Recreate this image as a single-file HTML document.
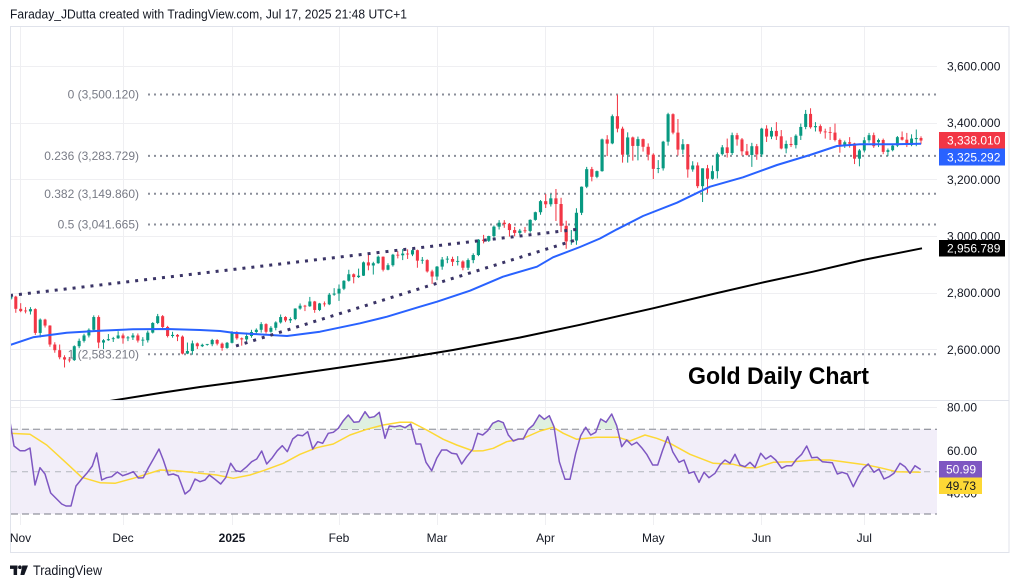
<!DOCTYPE html>
<html><head><meta charset="utf-8"><style>
html,body{margin:0;padding:0;background:#fff;}
svg{display:block;}
.g{fill:#089981}.r{fill:#f23645}
text{font-family:"Liberation Sans",Arial,sans-serif;}
</style></head><body>
<svg width="1020" height="588" viewBox="0 0 1020 588" xmlns="http://www.w3.org/2000/svg">
<defs>
<clipPath id="mp"><rect x="11" y="28" width="926" height="372"/></clipPath>
<clipPath id="rp"><rect x="11" y="401" width="926" height="124"/></clipPath>
<clipPath id="ob"><rect x="11" y="395" width="926" height="34.3"/></clipPath>
</defs>
<rect width="1020" height="588" fill="#fff"/>
<text x="10" y="18.5" font-size="12.5" fill="#131722" textLength="397" lengthAdjust="spacingAndGlyphs">Faraday_JDutta created with TradingView.com, Jul 17, 2025 21:48 UTC+1</text>
<rect x="10.5" y="26.5" width="998.5" height="526" fill="none" stroke="#e0e3eb" stroke-width="1"/>
<!-- grid -->
<g stroke="#efeff2" stroke-width="1">
<line x1="20.5" y1="27" x2="20.5" y2="525"/><line x1="123.5" y1="27" x2="123.5" y2="525"/><line x1="232.5" y1="27" x2="232.5" y2="525"/><line x1="339.5" y1="27" x2="339.5" y2="525"/><line x1="437.5" y1="27" x2="437.5" y2="525"/><line x1="545.5" y1="27" x2="545.5" y2="525"/><line x1="653.5" y1="27" x2="653.5" y2="525"/><line x1="761.5" y1="27" x2="761.5" y2="525"/><line x1="864.5" y1="27" x2="864.5" y2="525"/>
<line x1="11" y1="66.5" x2="937" y2="66.5"/><line x1="11" y1="123.5" x2="937" y2="123.5"/><line x1="11" y1="179.5" x2="937" y2="179.5"/><line x1="11" y1="236.5" x2="937" y2="236.5"/><line x1="11" y1="293.5" x2="937" y2="293.5"/><line x1="11" y1="349.5" x2="937" y2="349.5"/>
<line x1="11" y1="407.5" x2="937" y2="407.5"/><line x1="11" y1="450.5" x2="937" y2="450.5"/><line x1="11" y1="493.5" x2="937" y2="493.5"/>
</g>
<line x1="11" y1="400.5" x2="1009" y2="400.5" stroke="#e0e3eb" stroke-width="1"/>

<!-- main pane -->
<g clip-path="url(#mp)">
<!-- fib lines -->
<g stroke="#8a8e99" stroke-width="2" stroke-dasharray="2 4">
<line x1="148" y1="94.5" x2="937" y2="94.5"/>
<line x1="148" y1="155.9" x2="937" y2="155.9"/>
<line x1="148" y1="193.8" x2="937" y2="193.8"/>
<line x1="148" y1="224.5" x2="937" y2="224.5"/>
<line x1="148" y1="354.3" x2="937" y2="354.3"/>
</g>
<!-- candles -->
<g transform="translate(20.7,1086.2) scale(4.9,-0.2833)">
<rect class="g" x="-2.1" y="2776" width=".2" height="14"/><rect class="g" x="-2.31" y="2780" width=".62" height="7"/>
<rect class="r" x="-1.1" y="2730" width=".2" height="60"/><rect class="r" x="-1.31" y="2744" width=".62" height="43"/>
</g>
<g transform="translate(20.7,1086.2) scale(4.871,-0.2833)">
<rect class="r" x="-.1" y="2732" width=".2" height="32"/><rect class="r" x="-.31" y="2736" width=".62" height="8"/>
<rect class="r" x=".9" y="2728" width=".2" height="22"/><rect class="r" x=".69" y="2735" width=".62" height="3"/>
<rect class="g" x="1.9" y="2724" width=".2" height="26"/><rect class="g" x="1.69" y="2735" width=".62" height="8"/>
<rect class="r" x="2.9" y="2652" width=".2" height="94"/><rect class="r" x="2.69" y="2659" width=".62" height="84"/>
<rect class="g" x="3.9" y="2643" width=".2" height="67"/><rect class="g" x="3.69" y="2659" width=".62" height="47"/>
<rect class="r" x="4.9" y="2678" width=".2" height="31"/><rect class="r" x="4.69" y="2685" width=".62" height="21"/>
<rect class="r" x="5.9" y="2610" width=".2" height="76"/><rect class="r" x="5.69" y="2618" width=".62" height="67"/>
<rect class="r" x="6.9" y="2589" width=".2" height="37"/><rect class="r" x="6.69" y="2598" width=".62" height="20"/>
<rect class="r" x="7.9" y="2566" width=".2" height="52"/><rect class="r" x="7.69" y="2573" width=".62" height="25"/>
<rect class="r" x="8.9" y="2537" width=".2" height="43"/><rect class="r" x="8.69" y="2565" width=".62" height="8"/>
<rect class="r" x="9.9" y="2555" width=".2" height="19"/><rect class="r" x="9.69" y="2562" width=".62" height="3"/>
<rect class="g" x="10.9" y="2560" width=".2" height="55"/><rect class="g" x="10.69" y="2563" width=".62" height="49"/>
<rect class="g" x="11.9" y="2605" width=".2" height="34"/><rect class="g" x="11.69" y="2612" width=".62" height="19"/>
<rect class="g" x="12.9" y="2625" width=".2" height="31"/><rect class="g" x="12.69" y="2631" width=".62" height="19"/>
<rect class="g" x="13.9" y="2643" width=".2" height="32"/><rect class="g" x="13.69" y="2650" width=".62" height="20"/>
<rect class="g" x="14.9" y="2668" width=".2" height="53"/><rect class="g" x="14.69" y="2670" width=".62" height="45"/>
<rect class="r" x="15.9" y="2605" width=".2" height="116"/><rect class="r" x="15.69" y="2625" width=".62" height="90"/>
<rect class="g" x="16.9" y="2602" width=".2" height="35"/><rect class="g" x="16.69" y="2625" width=".62" height="8"/>
<rect class="g" x="17.9" y="2631" width=".2" height="24"/><rect class="g" x="17.69" y="2633" width=".62" height="4"/>
<rect class="g" x="18.9" y="2627" width=".2" height="18"/><rect class="g" x="18.69" y="2637" width=".62" height="3"/>
<rect class="g" x="19.9" y="2638" width=".2" height="27"/><rect class="g" x="19.69" y="2640" width=".62" height="10"/>
</g>
<g transform="translate(123,1086.2) scale(4.955,-0.2833)">
<rect class="r" x="-.1" y="2621" width=".2" height="36"/><rect class="r" x="-.31" y="2640" width=".62" height="10"/>
<rect class="g" x=".9" y="2630" width=".2" height="18"/><rect class="g" x=".69" y="2640" width=".62" height="3"/>
<rect class="g" x="1.9" y="2634" width=".2" height="24"/><rect class="g" x="1.69" y="2643" width=".62" height="7"/>
<rect class="r" x="2.9" y="2625" width=".2" height="32"/><rect class="r" x="2.69" y="2632" width=".62" height="18"/>
<rect class="g" x="3.9" y="2613" width=".2" height="31"/><rect class="g" x="3.69" y="2632" width=".62" height="3"/>
<rect class="g" x="4.9" y="2625" width=".2" height="42"/><rect class="g" x="4.69" y="2633" width=".62" height="27"/>
<rect class="g" x="5.9" y="2657" width=".2" height="40"/><rect class="g" x="5.69" y="2660" width=".62" height="34"/>
<rect class="g" x="6.9" y="2690" width=".2" height="36"/><rect class="g" x="6.69" y="2694" width=".62" height="24"/>
<rect class="r" x="7.9" y="2670" width=".2" height="52"/><rect class="r" x="7.69" y="2680" width=".62" height="38"/>
<rect class="r" x="8.9" y="2643" width=".2" height="41"/><rect class="r" x="8.69" y="2648" width=".62" height="32"/>
<rect class="g" x="9.9" y="2642" width=".2" height="21"/><rect class="g" x="9.69" y="2648" width=".62" height="4"/>
<rect class="r" x="10.9" y="2630" width=".2" height="25"/><rect class="r" x="10.69" y="2646" width=".62" height="6"/>
<rect class="r" x="11.9" y="2583" width=".2" height="67"/><rect class="r" x="11.69" y="2586" width=".62" height="60"/>
<rect class="g" x="12.9" y="2584" width=".2" height="41"/><rect class="g" x="12.69" y="2586" width=".62" height="9"/>
<rect class="g" x="13.9" y="2582" width=".2" height="50"/><rect class="g" x="13.69" y="2595" width=".62" height="27"/>
<rect class="r" x="14.9" y="2602" width=".2" height="23"/><rect class="r" x="14.69" y="2612" width=".62" height="10"/>
<rect class="g" x="15.9" y="2609" width=".2" height="12"/><rect class="g" x="15.69" y="2612" width=".62" height="5"/>
<rect class="g" x="16.9" y="2614" width=".2" height="6"/><rect class="g" x="16.69" y="2617" width=".62" height="3"/>
<rect class="g" x="17.9" y="2612" width=".2" height="26"/><rect class="g" x="17.69" y="2619" width=".62" height="15"/>
<rect class="r" x="18.9" y="2615" width=".2" height="22"/><rect class="r" x="18.69" y="2621" width=".62" height="13"/>
<rect class="r" x="19.9" y="2596" width=".2" height="29"/><rect class="r" x="19.69" y="2606" width=".62" height="15"/>
<rect class="g" x="20.9" y="2603" width=".2" height="24"/><rect class="g" x="20.69" y="2606" width=".62" height="18"/>
</g>
<g transform="translate(232,1086.2) scale(4.864,-0.2833)">
<rect class="g" x="-.1" y="2622" width=".2" height="43"/><rect class="g" x="-.31" y="2624" width=".62" height="34"/>
<rect class="r" x=".9" y="2635" width=".2" height="30"/><rect class="r" x=".69" y="2640" width=".62" height="18"/>
<rect class="r" x="1.9" y="2614" width=".2" height="29"/><rect class="r" x="1.69" y="2636" width=".62" height="4"/>
<rect class="g" x="2.9" y="2630" width=".2" height="30"/><rect class="g" x="2.69" y="2636" width=".62" height="12"/>
<rect class="g" x="3.9" y="2642" width=".2" height="28"/><rect class="g" x="3.69" y="2648" width=".62" height="14"/>
<rect class="g" x="4.9" y="2657" width=".2" height="18"/><rect class="g" x="4.69" y="2662" width=".62" height="8"/>
<rect class="g" x="5.9" y="2660" width=".2" height="37"/><rect class="g" x="5.69" y="2670" width=".62" height="20"/>
<rect class="r" x="6.9" y="2657" width=".2" height="36"/><rect class="r" x="6.69" y="2663" width=".62" height="27"/>
<rect class="g" x="7.9" y="2660" width=".2" height="23"/><rect class="g" x="7.69" y="2663" width=".62" height="14"/>
<rect class="g" x="8.9" y="2668" width=".2" height="32"/><rect class="g" x="8.69" y="2677" width=".62" height="19"/>
<rect class="g" x="9.9" y="2692" width=".2" height="32"/><rect class="g" x="9.69" y="2696" width=".62" height="19"/>
<rect class="r" x="10.9" y="2697" width=".2" height="21"/><rect class="r" x="10.69" y="2703" width=".62" height="12"/>
<rect class="g" x="11.9" y="2694" width=".2" height="20"/><rect class="g" x="11.69" y="2703" width=".62" height="5"/>
<rect class="g" x="12.9" y="2704" width=".2" height="42"/><rect class="g" x="12.69" y="2708" width=".62" height="37"/>
<rect class="g" x="13.9" y="2741" width=".2" height="22"/><rect class="g" x="13.69" y="2745" width=".62" height="10"/>
<rect class="r" x="14.9" y="2736" width=".2" height="22"/><rect class="r" x="14.69" y="2752" width=".62" height="3"/>
<rect class="g" x="15.9" y="2751" width=".2" height="35"/><rect class="g" x="15.69" y="2753" width=".62" height="17"/>
<rect class="r" x="16.9" y="2730" width=".2" height="42"/><rect class="r" x="16.69" y="2740" width=".62" height="30"/>
<rect class="g" x="17.9" y="2736" width=".2" height="29"/><rect class="g" x="17.69" y="2740" width=".62" height="23"/>
<rect class="r" x="18.9" y="2752" width=".2" height="18"/><rect class="r" x="18.69" y="2760" width=".62" height="3"/>
<rect class="g" x="19.9" y="2757" width=".2" height="43"/><rect class="g" x="19.69" y="2760" width=".62" height="34"/>
<rect class="g" x="20.9" y="2790" width=".2" height="27"/><rect class="g" x="20.69" y="2794" width=".62" height="4"/>
</g>
<g transform="translate(339,1086.2) scale(4.9,-0.2833)">
<rect class="g" x="-.1" y="2772" width=".2" height="58"/><rect class="g" x="-.31" y="2798" width=".62" height="17"/>
<rect class="g" x=".9" y="2810" width=".2" height="35"/><rect class="g" x=".69" y="2815" width=".62" height="28"/>
<rect class="g" x="1.9" y="2840" width=".2" height="42"/><rect class="g" x="1.69" y="2843" width=".62" height="23"/>
<rect class="r" x="2.9" y="2834" width=".2" height="35"/><rect class="r" x="2.69" y="2856" width=".62" height="10"/>
<rect class="g" x="3.9" y="2853" width=".2" height="33"/><rect class="g" x="3.69" y="2856" width=".62" height="5"/>
<rect class="g" x="4.9" y="2860" width=".2" height="51"/><rect class="g" x="4.69" y="2861" width=".62" height="47"/>
<rect class="r" x="5.9" y="2880" width=".2" height="62"/><rect class="r" x="5.69" y="2897" width=".62" height="11"/>
<rect class="g" x="6.9" y="2865" width=".2" height="45"/><rect class="g" x="6.69" y="2897" width=".62" height="8"/>
<rect class="g" x="7.9" y="2903" width=".2" height="29"/><rect class="g" x="7.69" y="2905" width=".62" height="23"/>
<rect class="r" x="8.9" y="2876" width=".2" height="53"/><rect class="r" x="8.69" y="2882" width=".62" height="46"/>
<rect class="g" x="9.9" y="2880" width=".2" height="25"/><rect class="g" x="9.69" y="2882" width=".62" height="16"/>
<rect class="g" x="10.9" y="2893" width=".2" height="45"/><rect class="g" x="10.69" y="2898" width=".62" height="37"/>
<rect class="r" x="11.9" y="2922" width=".2" height="25"/><rect class="r" x="11.69" y="2932" width=".62" height="3"/>
<rect class="g" x="12.9" y="2916" width=".2" height="39"/><rect class="g" x="12.69" y="2933" width=".62" height="6"/>
<rect class="r" x="13.9" y="2920" width=".2" height="34"/><rect class="r" x="13.69" y="2936" width=".62" height="3"/>
<rect class="g" x="14.9" y="2930" width=".2" height="26"/><rect class="g" x="14.69" y="2936" width=".62" height="15"/>
<rect class="r" x="15.9" y="2889" width=".2" height="64"/><rect class="r" x="15.69" y="2914" width=".62" height="37"/>
<rect class="g" x="16.9" y="2903" width=".2" height="24"/><rect class="g" x="16.69" y="2914" width=".62" height="3"/>
<rect class="r" x="17.9" y="2872" width=".2" height="47"/><rect class="r" x="17.69" y="2876" width=".62" height="40"/>
<rect class="r" x="18.9" y="2832" width=".2" height="50"/><rect class="r" x="18.69" y="2858" width=".62" height="18"/>
</g>
<g transform="translate(437,1086.2) scale(5.176,-0.2833)">
<rect class="g" x="-.1" y="2845" width=".2" height="50"/><rect class="g" x="-.31" y="2858" width=".62" height="35"/>
<rect class="g" x=".9" y="2882" width=".2" height="45"/><rect class="g" x=".69" y="2893" width=".62" height="25"/>
<rect class="g" x="1.9" y="2905" width=".2" height="25"/><rect class="g" x="1.69" y="2918" width=".62" height="3"/>
<rect class="r" x="2.9" y="2895" width=".2" height="33"/><rect class="r" x="2.69" y="2910" width=".62" height="10"/>
<rect class="g" x="3.9" y="2897" width=".2" height="33"/><rect class="g" x="3.69" y="2910" width=".62" height="3"/>
<rect class="r" x="4.9" y="2880" width=".2" height="35"/><rect class="r" x="4.69" y="2889" width=".62" height="22"/>
<rect class="g" x="5.9" y="2881" width=".2" height="41"/><rect class="g" x="5.69" y="2889" width=".62" height="27"/>
<rect class="g" x="6.9" y="2905" width=".2" height="35"/><rect class="g" x="6.69" y="2916" width=".62" height="18"/>
<rect class="g" x="7.9" y="2930" width=".2" height="60"/><rect class="g" x="7.69" y="2934" width=".62" height="54"/>
<rect class="r" x="8.9" y="2975" width=".2" height="30"/><rect class="r" x="8.69" y="2984" width=".62" height="4"/>
<rect class="g" x="9.9" y="2980" width=".2" height="22"/><rect class="g" x="9.69" y="2984" width=".62" height="17"/>
<rect class="g" x="10.9" y="2996" width=".2" height="42"/><rect class="g" x="10.69" y="3001" width=".62" height="33"/>
<rect class="g" x="11.9" y="3024" width=".2" height="33"/><rect class="g" x="11.69" y="3034" width=".62" height="14"/>
<rect class="r" x="12.9" y="3030" width=".2" height="27"/><rect class="r" x="12.69" y="3043" width=".62" height="5"/>
<rect class="r" x="13.9" y="2999" width=".2" height="48"/><rect class="r" x="13.69" y="3022" width=".62" height="21"/>
<rect class="r" x="14.9" y="3000" width=".2" height="33"/><rect class="r" x="14.69" y="3012" width=".62" height="10"/>
<rect class="g" x="15.9" y="3005" width=".2" height="21"/><rect class="g" x="15.69" y="3012" width=".62" height="8"/>
<rect class="r" x="16.9" y="3012" width=".2" height="21"/><rect class="r" x="16.69" y="3018" width=".62" height="3"/>
<rect class="g" x="17.9" y="3013" width=".2" height="47"/><rect class="g" x="17.69" y="3019" width=".62" height="39"/>
<rect class="g" x="18.9" y="3055" width=".2" height="32"/><rect class="g" x="18.69" y="3058" width=".62" height="27"/>
<rect class="g" x="19.9" y="3076" width=".2" height="52"/><rect class="g" x="19.69" y="3085" width=".62" height="39"/>
</g>
<g transform="translate(545.7,1086.2) scale(5.124,-0.2833)">
<rect class="r" x="-.1" y="3100" width=".2" height="49"/><rect class="r" x="-.31" y="3113" width=".62" height="11"/>
<rect class="g" x=".9" y="3105" width=".2" height="44"/><rect class="g" x=".69" y="3113" width=".62" height="21"/>
<rect class="r" x="1.9" y="3054" width=".2" height="113"/><rect class="r" x="1.69" y="3114" width=".62" height="20"/>
<rect class="r" x="2.9" y="3015" width=".2" height="121"/><rect class="r" x="2.69" y="3037" width=".62" height="77"/>
<rect class="r" x="3.9" y="2956" width=".2" height="99"/><rect class="r" x="3.69" y="2982" width=".62" height="55"/>
<rect class="g" x="4.9" y="2970" width=".2" height="52"/><rect class="g" x="4.69" y="2982" width=".62" height="3"/>
<rect class="g" x="5.9" y="2970" width=".2" height="129"/><rect class="g" x="5.69" y="2985" width=".62" height="98"/>
<rect class="g" x="6.9" y="3075" width=".2" height="101"/><rect class="g" x="6.69" y="3083" width=".62" height="92"/>
<rect class="g" x="7.9" y="3170" width=".2" height="75"/><rect class="g" x="7.69" y="3175" width=".62" height="62"/>
<rect class="r" x="8.9" y="3194" width=".2" height="51"/><rect class="r" x="8.69" y="3210" width=".62" height="27"/>
<rect class="g" x="9.9" y="3205" width=".2" height="27"/><rect class="g" x="9.69" y="3210" width=".62" height="20"/>
<rect class="g" x="10.9" y="3228" width=".2" height="117"/><rect class="g" x="10.69" y="3230" width=".62" height="112"/>
<rect class="r" x="11.9" y="3283" width=".2" height="74"/><rect class="r" x="11.69" y="3327" width=".62" height="15"/>
<rect class="g" x="12.9" y="3325" width=".2" height="105"/><rect class="g" x="12.69" y="3328" width=".62" height="96"/>
<rect class="r" x="13.9" y="3367" width=".2" height="133"/><rect class="r" x="13.69" y="3380" width=".62" height="44"/>
<rect class="r" x="14.9" y="3260" width=".2" height="127"/><rect class="r" x="14.69" y="3288" width=".62" height="92"/>
<rect class="g" x="15.9" y="3260" width=".2" height="107"/><rect class="g" x="15.69" y="3288" width=".62" height="61"/>
<rect class="r" x="16.9" y="3267" width=".2" height="85"/><rect class="r" x="16.69" y="3319" width=".62" height="30"/>
<rect class="g" x="17.9" y="3268" width=".2" height="84"/><rect class="g" x="17.69" y="3319" width=".62" height="24"/>
<rect class="r" x="18.9" y="3299" width=".2" height="46"/><rect class="r" x="18.69" y="3316" width=".62" height="27"/>
<rect class="r" x="19.9" y="3268" width=".2" height="60"/><rect class="r" x="19.69" y="3288" width=".62" height="28"/>
</g>
<g transform="translate(653.3,1086.2) scale(4.927,-0.2833)">
<rect class="r" x="-.1" y="3202" width=".2" height="91"/><rect class="r" x="-.31" y="3238" width=".62" height="50"/>
<rect class="g" x=".9" y="3223" width=".2" height="46"/><rect class="g" x=".69" y="3238" width=".62" height="3"/>
<rect class="g" x="1.9" y="3232" width=".2" height="105"/><rect class="g" x="1.69" y="3240" width=".62" height="94"/>
<rect class="g" x="2.9" y="3320" width=".2" height="116"/><rect class="g" x="2.69" y="3334" width=".62" height="97"/>
<rect class="r" x="3.9" y="3360" width=".2" height="74"/><rect class="r" x="3.69" y="3366" width=".62" height="65"/>
<rect class="r" x="4.9" y="3285" width=".2" height="129"/><rect class="r" x="4.69" y="3306" width=".62" height="60"/>
<rect class="g" x="5.9" y="3290" width=".2" height="53"/><rect class="g" x="5.69" y="3306" width=".62" height="19"/>
<rect class="r" x="6.9" y="3207" width=".2" height="119"/><rect class="r" x="6.69" y="3236" width=".62" height="89"/>
<rect class="g" x="7.9" y="3228" width=".2" height="37"/><rect class="g" x="7.69" y="3236" width=".62" height="14"/>
<rect class="r" x="8.9" y="3170" width=".2" height="91"/><rect class="r" x="8.69" y="3177" width=".62" height="73"/>
<rect class="g" x="9.9" y="3121" width=".2" height="119"/><rect class="g" x="9.69" y="3177" width=".62" height="63"/>
<rect class="r" x="10.9" y="3153" width=".2" height="99"/><rect class="r" x="10.69" y="3203" width=".62" height="37"/>
<rect class="g" x="11.9" y="3200" width=".2" height="50"/><rect class="g" x="11.69" y="3203" width=".62" height="27"/>
<rect class="g" x="12.9" y="3204" width=".2" height="92"/><rect class="g" x="12.69" y="3230" width=".62" height="60"/>
<rect class="g" x="13.9" y="3285" width=".2" height="37"/><rect class="g" x="13.69" y="3290" width=".62" height="24"/>
<rect class="r" x="14.9" y="3278" width=".2" height="67"/><rect class="r" x="14.69" y="3294" width=".62" height="20"/>
<rect class="g" x="15.9" y="3287" width=".2" height="79"/><rect class="g" x="15.69" y="3294" width=".62" height="63"/>
<rect class="r" x="16.9" y="3320" width=".2" height="45"/><rect class="r" x="16.69" y="3342" width=".62" height="15"/>
<rect class="r" x="17.9" y="3285" width=".2" height="62"/><rect class="r" x="17.69" y="3300" width=".62" height="42"/>
<rect class="r" x="18.9" y="3285" width=".2" height="41"/><rect class="r" x="18.69" y="3287" width=".62" height="13"/>
<rect class="g" x="19.9" y="3245" width=".2" height="85"/><rect class="g" x="19.69" y="3287" width=".62" height="31"/>
<rect class="r" x="20.9" y="3270" width=".2" height="56"/><rect class="r" x="20.69" y="3289" width=".62" height="29"/>
</g>
<g transform="translate(761.7,1086.2) scale(4.886,-0.2833)">
<rect class="g" x="-.1" y="3280" width=".2" height="103"/><rect class="g" x="-.31" y="3289" width=".62" height="91"/>
<rect class="r" x=".9" y="3333" width=".2" height="59"/><rect class="r" x=".69" y="3352" width=".62" height="28"/>
<rect class="g" x="1.9" y="3343" width=".2" height="42"/><rect class="g" x="1.69" y="3352" width=".62" height="20"/>
<rect class="r" x="2.9" y="3340" width=".2" height="63"/><rect class="r" x="2.69" y="3353" width=".62" height="19"/>
<rect class="r" x="3.9" y="3307" width=".2" height="68"/><rect class="r" x="3.69" y="3310" width=".62" height="43"/>
<rect class="g" x="4.9" y="3293" width=".2" height="45"/><rect class="g" x="4.69" y="3310" width=".62" height="16"/>
<rect class="r" x="5.9" y="3315" width=".2" height="35"/><rect class="r" x="5.69" y="3322" width=".62" height="4"/>
<rect class="g" x="6.9" y="3310" width=".2" height="50"/><rect class="g" x="6.69" y="3322" width=".62" height="33"/>
<rect class="g" x="7.9" y="3340" width=".2" height="58"/><rect class="g" x="7.69" y="3355" width=".62" height="31"/>
<rect class="g" x="8.9" y="3378" width=".2" height="68"/><rect class="g" x="8.69" y="3386" width=".62" height="46"/>
<rect class="r" x="9.9" y="3380" width=".2" height="72"/><rect class="r" x="9.69" y="3385" width=".62" height="47"/>
<rect class="g" x="10.9" y="3370" width=".2" height="33"/><rect class="g" x="10.69" y="3385" width=".62" height="4"/>
<rect class="r" x="11.9" y="3362" width=".2" height="33"/><rect class="r" x="11.69" y="3370" width=".62" height="19"/>
<rect class="r" x="12.9" y="3345" width=".2" height="35"/><rect class="r" x="12.69" y="3367" width=".62" height="3"/>
<rect class="r" x="13.9" y="3340" width=".2" height="46"/><rect class="r" x="13.69" y="3365" width=".62" height="3"/>
<rect class="r" x="14.9" y="3335" width=".2" height="63"/><rect class="r" x="14.69" y="3340" width=".62" height="26"/>
<rect class="r" x="15.9" y="3295" width=".2" height="50"/><rect class="r" x="15.69" y="3323" width=".62" height="17"/>
<rect class="g" x="16.9" y="3312" width=".2" height="26"/><rect class="g" x="16.69" y="3323" width=".62" height="9"/>
<rect class="r" x="17.9" y="3313" width=".2" height="37"/><rect class="r" x="17.69" y="3327" width=".62" height="5"/>
<rect class="r" x="18.9" y="3255" width=".2" height="75"/><rect class="r" x="18.69" y="3274" width=".62" height="54"/>
<rect class="g" x="19.9" y="3247" width=".2" height="61"/><rect class="g" x="19.69" y="3274" width=".62" height="29"/>
</g>
<g transform="translate(864.3,1086.2) scale(4.725,-0.2833)">
<rect class="g" x="-.1" y="3296" width=".2" height="54"/><rect class="g" x="-.31" y="3303" width=".62" height="36"/>
<rect class="g" x=".9" y="3330" width=".2" height="35"/><rect class="g" x=".69" y="3339" width=".62" height="18"/>
<rect class="r" x="1.9" y="3312" width=".2" height="54"/><rect class="r" x="1.69" y="3318" width=".62" height="39"/>
<rect class="g" x="2.9" y="3315" width=".2" height="30"/><rect class="g" x="2.69" y="3332" width=".62" height="8"/>
<rect class="r" x="3.9" y="3290" width=".2" height="55"/><rect class="r" x="3.69" y="3298" width=".62" height="42"/>
<rect class="g" x="4.9" y="3283" width=".2" height="27"/><rect class="g" x="4.69" y="3298" width=".62" height="6"/>
<rect class="g" x="5.9" y="3300" width=".2" height="25"/><rect class="g" x="5.69" y="3304" width=".62" height="16"/>
<rect class="g" x="6.9" y="3315" width=".2" height="39"/><rect class="g" x="6.69" y="3320" width=".62" height="30"/>
<rect class="r" x="7.9" y="3338" width=".2" height="32"/><rect class="r" x="7.69" y="3341" width=".62" height="9"/>
<rect class="r" x="8.9" y="3315" width=".2" height="50"/><rect class="r" x="8.69" y="3322" width=".62" height="19"/>
<rect class="g" x="9.9" y="3318" width=".2" height="42"/><rect class="g" x="9.69" y="3322" width=".62" height="23"/>
<rect class="g" x="10.9" y="3318" width=".2" height="59"/><rect class="g" x="10.69" y="3343" width=".62" height="4"/>
<rect class="r" x="11.9" y="3325" width=".2" height="28"/><rect class="r" x="11.69" y="3338" width=".62" height="9"/>
</g>
<!-- MAs -->
<polyline fill="none" stroke="#000" stroke-width="2" stroke-linejoin="round" points="100,402.5 113,400.5 160,393 200,387 260,379 330,369 400,358.8 453,350 520,337.5 580,324.8 653,308.3 713,294 762,282.7 813,271.7 863,260 922,248.3"/>
<polyline fill="none" stroke="#2962ff" stroke-width="2" stroke-linejoin="round" points="10,345 33,337.3 66.7,332.7 100,330.7 133,329.3 167,329 200,330 220,331 233,332.7 253,334 287,336 320,331.7 360,323.3 387,316.7 420,306.7 437,301.7 470,290.7 503,276.7 537,266.7 553,257.3 580,247 600,238.5 617,229.3 643,216 677,202.7 710,186.7 743,177.3 777,165 810,155 837,146 860,144.3 893,144.3 921,143.8"/>
<!-- trend lines -->
<g stroke="#3a3466" stroke-width="3" stroke-dasharray="3 6">
<line x1="10" y1="295.5" x2="580" y2="229"/>
<line x1="236" y1="346" x2="574" y2="240.5"/>
</g>
</g>
<!-- fib labels -->
<g font-size="12" fill="#787b86" text-anchor="end">
<text x="139" y="98.7">0 (3,500.120)</text>
<text x="139" y="160.1">0.236 (3,283.729)</text>
<text x="139" y="198">0.382 (3,149.860)</text>
<text x="139" y="228.7">0.5 (3,041.665)</text>
<text x="139" y="358.5">1 (2,583.210)</text>
</g>
<text x="688" y="384" font-size="24" font-weight="bold" fill="#000" textLength="181" lengthAdjust="spacingAndGlyphs">Gold Daily Chart</text>

<!-- RSI pane -->
<g clip-path="url(#rp)">
<rect x="11" y="429.3" width="926" height="84.7" fill="#f2eef9"/>
<line x1="11" y1="429.3" x2="937" y2="429.3" stroke="#787b86" stroke-width="1" stroke-dasharray="7 4"/>
<line x1="11" y1="514" x2="937" y2="514" stroke="#787b86" stroke-width="1" stroke-dasharray="7 4"/>
<line x1="11" y1="471.7" x2="937" y2="471.7" stroke="#b2b5be" stroke-width="1" stroke-dasharray="6 5"/>
<polygon clip-path="url(#ob)" fill="#dff0e0" points="10,429.3 10,421.7 14,446 20,450.7 25,450.7 30,448 35,485 40,467.7 45,474 50.7,493 56.7,499 61.7,504 66,506 71,506 76,486 81.7,479 87.3,472.7 92.3,466 96.7,453 101.7,480 106.7,477.7 111.7,476.7 117.3,472 122.7,475.7 127.7,474 133.3,471.7 138.3,478 143.3,477.7 148.3,468 154,458 159,449 163.3,460 168.3,475 173.3,474 178.3,476 185,494 190,490 195,479 200,481.7 205,480 209.3,475 215,479.3 220.7,484 225.7,477.7 230.7,463.3 235.7,470.7 240.7,471.7 246.7,466.7 251.7,461.7 256.7,459 261.7,451 266.7,464 272.3,457.7 277.3,450.7 282.3,445.7 287.3,451.7 292.7,439 297.7,435 302.7,435.7 307.7,431.7 312.7,449 317.7,441.7 322.7,443.3 328.3,433.3 333.3,432.3 338.3,428.3 343.3,420.7 348.3,415 354,422.3 359,421.7 365,411.7 369.3,417.7 374.3,416.7 379.3,412.3 385,438.3 389.3,426 395,426.7 400,425.7 405,427.7 410.7,424 416,444 420.7,444 426,462.3 431.7,470.7 436.7,458.3 441.7,450 446.7,450 451.7,453.3 456.7,454 461.7,464 466.7,456.7 472.7,449.3 477.7,433.3 482.7,435 487.7,430.7 492.7,423.3 498.3,420.7 503.3,422.7 508.3,435 513.3,441 518.3,439 523.3,439 528.3,429.3 533.3,425 539.3,415 544.3,419.3 549.3,415.7 554,426.7 559.3,461.7 565,479.3 570,479.3 575.7,453.3 580.7,435.7 585.7,427.3 590.7,435 595.7,432.3 600.7,419 606,422.3 611.7,414 616.7,425.7 621.7,446.7 626.7,440 920.7,469.5 920.7,429.3"/>
<polyline fill="none" stroke="#fdd835" stroke-width="1.5" stroke-linejoin="round" points="10,433.3 30,434.3 46.7,445 66.7,463.3 81.7,477.3 100,482.7 115,483.3 133.3,478.3 160,470 176.7,470.7 200,473.3 216.7,475 233.3,478.3 250,475 263.3,470.7 283.3,463.3 300,454.3 316.7,447.7 333.3,444 350,435 366.7,429.3 383.3,425 400,422.3 411.7,422.3 426.7,430 443.3,439.3 456.7,445 473.3,451 483.3,450.7 493.3,448.3 506.7,441.7 523.3,438.3 540,431 553.3,427.3 563.3,433.3 576.7,439.3 596.7,437.3 618.3,437.3 630,441 645,435 656.7,438.3 670,443.3 690,454.3 713.3,463.3 733.3,464.3 746.7,467.7 756.7,467.7 773.3,462.3 793.3,461.7 813.3,460 830,460 846.7,462.3 866.7,465 880,467.7 896.7,471.7 920.7,472.2"/>
<polyline fill="none" stroke="#7e57c2" stroke-width="1.5" stroke-linejoin="round" points="10,421.7 14,446 20,450.7 25,450.7 30,448 35,485 40,467.7 45,474 50.7,493 56.7,499 61.7,504 66,506 71,506 76,486 81.7,479 87.3,472.7 92.3,466 96.7,453 101.7,480 106.7,477.7 111.7,476.7 117.3,472 122.7,475.7 127.7,474 133.3,471.7 138.3,478 143.3,477.7 148.3,468 154,458 159,449 163.3,460 168.3,475 173.3,474 178.3,476 185,494 190,490 195,479 200,481.7 205,480 209.3,475 215,479.3 220.7,484 225.7,477.7 230.7,463.3 235.7,470.7 240.7,471.7 246.7,466.7 251.7,461.7 256.7,459 261.7,451 266.7,464 272.3,457.7 277.3,450.7 282.3,445.7 287.3,451.7 292.7,439 297.7,435 302.7,435.7 307.7,431.7 312.7,449 317.7,441.7 322.7,443.3 328.3,433.3 333.3,432.3 338.3,428.3 343.3,420.7 348.3,415 354,422.3 359,421.7 365,411.7 369.3,417.7 374.3,416.7 379.3,412.3 385,438.3 389.3,426 395,426.7 400,425.7 405,427.7 410.7,424 416,444 420.7,444 426,462.3 431.7,470.7 436.7,458.3 441.7,450 446.7,450 451.7,453.3 456.7,454 461.7,464 466.7,456.7 472.7,449.3 477.7,433.3 482.7,435 487.7,430.7 492.7,423.3 498.3,420.7 503.3,422.7 508.3,435 513.3,441 518.3,439 523.3,439 528.3,429.3 533.3,425 539.3,415 544.3,419.3 549.3,415.7 554,426.7 559.3,461.7 565,479.3 570,479.3 575.7,453.3 580.7,435.7 585.7,427.3 590.7,435 595.7,432.3 600.7,419 606,422.3 611.7,414 616.7,425.7 621.7,446.7 626.7,440 631.7,445 636.7,442.3 641.7,447.7 646.7,454.3 652.7,465 657.7,465 662.7,450 667.7,436.7 672.7,451.7 679,462.3 684,460 689,473.3 694,471.7 699,482.3 704,472.3 709,477.7 715,473.3 720,465 725,460 730,463.3 735,454.3 740,465 745,466.7 750,462.3 755,467.3 760.7,453.3 765.7,459 770.7,455.7 775.7,460 781.7,468.3 786.7,465.7 791.7,465.7 796.7,459 801.7,454.3 806.7,446 811.7,457.7 817.3,457.3 822.3,461.7 827.3,462.3 832.3,462.7 837.3,474 842.3,472.3 847.3,474 853.3,486.7 858.3,476.7 863.3,468.3 868.3,464 874,472.3 879,469 884,479 889,476.7 894,473.3 900,463.3 905,466.7 910,473.3 915,465.7 920.7,469.5"/>
</g>

<!-- price axis -->
<g font-size="12" fill="#131722">
<text x="947" y="70.5">3,600.000</text>
<text x="947" y="127.2">3,400.000</text>
<text x="947" y="183.8">3,200.000</text>
<text x="947" y="240.5">3,000.000</text>
<text x="947" y="297.2">2,800.000</text>
<text x="947" y="353.8">2,600.000</text>
<text x="947" y="411.5">80.00</text>
<text x="947" y="454.9">60.00</text>
<text x="947" y="497.5">40.00</text>
</g>
<rect x="939" y="132" width="66" height="16.5" fill="#f23645"/>
<rect x="939" y="148.5" width="66" height="17" fill="#2962ff"/>
<rect x="939" y="240" width="66" height="16.5" fill="#000"/>
<rect x="939" y="461" width="43" height="16.5" fill="#7e57c2"/>
<rect x="939" y="477.5" width="43" height="16.5" fill="#fdd835"/>
<g font-size="12" fill="#fff">
<text x="947" y="144.5">3,338.010</text>
<text x="947" y="161.3">3,325.292</text>
<text x="947" y="252.5">2,956.789</text>
<text x="946" y="473.5">50.99</text>
</g>
<text x="946" y="490" font-size="12" fill="#131722">49.73</text>

<!-- time axis -->
<g font-size="12" fill="#131722" text-anchor="middle">
<text x="20.5" y="542">Nov</text>
<text x="123" y="542">Dec</text>
<text x="232" y="542" font-weight="bold">2025</text>
<text x="339" y="542">Feb</text>
<text x="437" y="542">Mar</text>
<text x="545.5" y="542">Apr</text>
<text x="653.3" y="542">May</text>
<text x="761.5" y="542">Jun</text>
<text x="864.3" y="542">Jul</text>
</g>

<!-- logo -->
<g fill="#131722">
<rect x="10" y="565.5" width="7.5" height="3.4"/>
<rect x="13.6" y="565.5" width="3.5" height="9.5"/>
<circle cx="19.9" cy="567.2" r="1.8"/>
<polygon points="22.3,565.5 28,565.5 24.3,575 20.4,575"/>
</g>
<text x="33" y="575" font-size="14" fill="#131722" textLength="69" lengthAdjust="spacingAndGlyphs">TradingView</text>
</svg>
</body></html>
